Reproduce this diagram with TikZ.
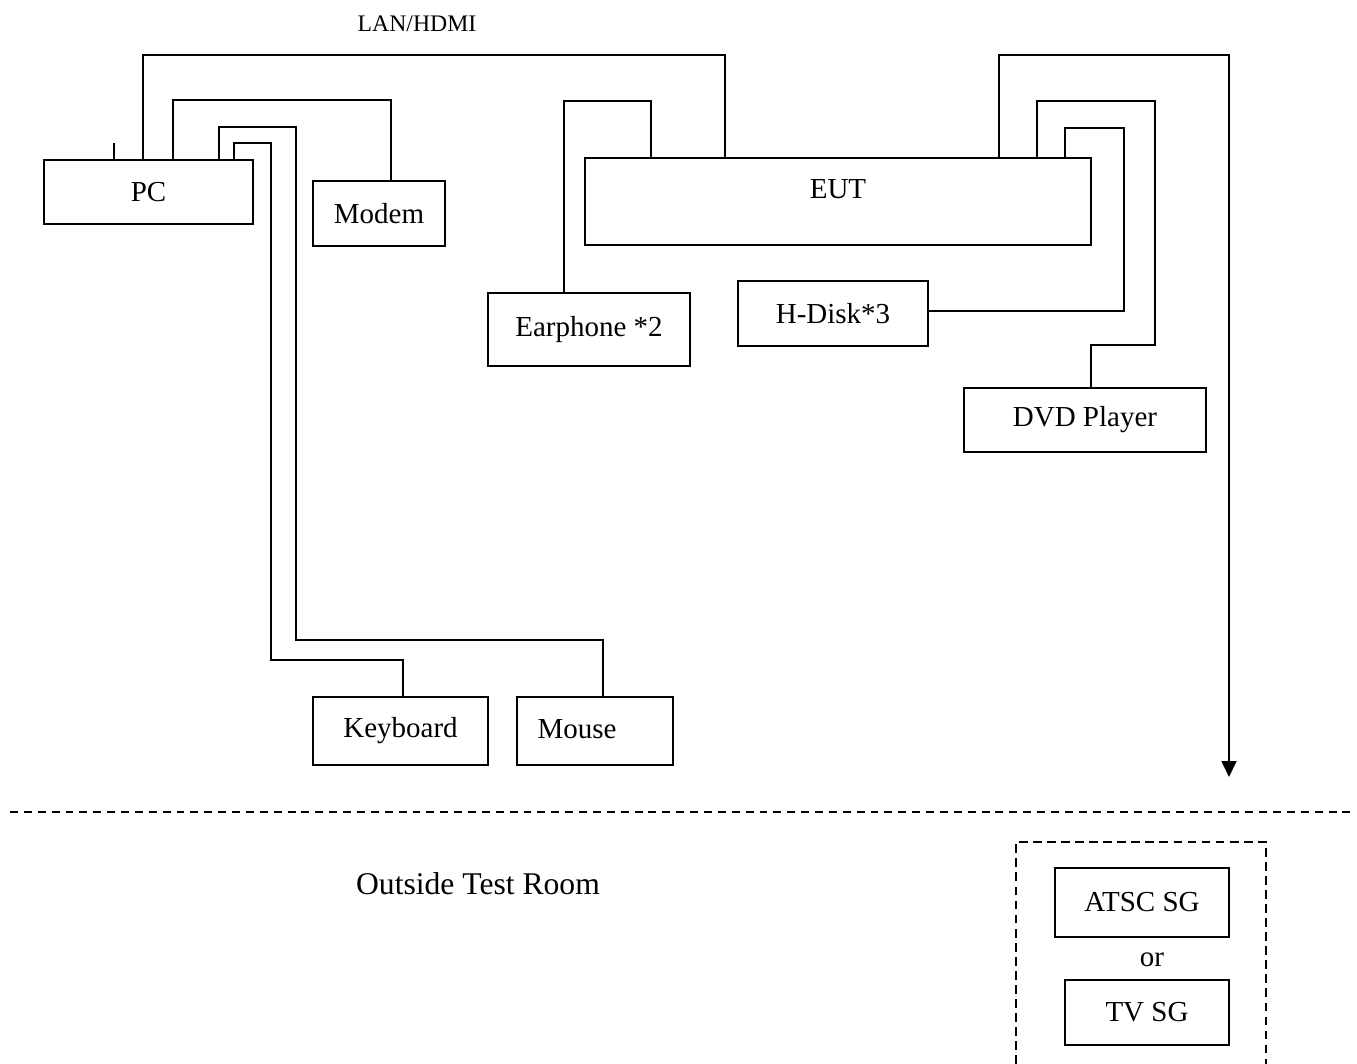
\documentclass[tikz,border=0pt]{standalone}
\usepackage{fontspec}
\setmainfont{Liberation Serif}
\usetikzlibrary{positioning,arrows.meta}

\begin{document}
\begin{tikzpicture}[
    x=0.02cm, y=-0.02cm,
    line width=1pt,
    every node/.style={font=\fontsize{16.5}{20}\selectfont},
    box/.style={draw, rectangle, inner sep=0pt, outer sep=0pt},
    roomline/.style={dash pattern=on 4.5pt off 3.4pt},
    sgline/.style={dash pattern=on 5pt off 3pt}
]
    \useasboundingbox (0,0) rectangle (1357,1064);

    % equipment inside the room
    \node[box, minimum width=4.18cm, minimum height=1.28cm] (pc) at (148.5,192) {PC};
    \node[box, minimum width=2.64cm, minimum height=1.30cm] (modem) at (379,213.5) {Modem};
    \node[box, minimum width=10.12cm, minimum height=1.74cm,
          label={[yshift=0.25cm]center:EUT}] (eut) at (838,201.5) {};
    \node[box, minimum width=4.04cm, minimum height=1.46cm] (ear) at (589,329.5) {Earphone *2};
    \node[box, minimum width=3.80cm, minimum height=1.30cm] (hdisk) at (833,313.5) {H-Disk*3};
    \node[box, minimum width=4.84cm, minimum height=1.28cm] (dvd) at (1085,420) {DVD Player};
    \node[box, minimum width=3.50cm, minimum height=1.36cm] (kbd) at (400.5,731) {Keyboard};
    \node[box, minimum width=3.12cm, minimum height=1.36cm, right=0.58cm of kbd,
          label={[xshift=-0.36cm, yshift=0.04cm]center:Mouse}] (mouse) {};

    \node[font=\fontsize{13.5}{16}\selectfont] (lan) at (417,24) {LAN/HDMI};

    % cables
    \draw (114,0 |- pc.north) -- ++(0,-17);
    \draw (143,0 |- pc.north) |- (725,55) -- (725,0 |- eut.north);
    \draw (173,0 |- pc.north) |- (391,100) -- (391,0 |- modem.north);
    \draw (219,0 |- pc.north) |- (296,127) |- (603,640) -- (603,0 |- mouse.north);
    \draw (234,0 |- pc.north) |- (271,143) |- (403,660) -- (403,0 |- kbd.north);
    \draw (651,0 |- eut.north) |- (564,101) -- (564,0 |- ear.north);
    \draw ([yshift=0.05cm]hdisk.east) -| (1124,128) -| (1065,0 |- eut.north);
    \draw (1037,0 |- eut.north) |- (1155,101) |- (1091,345) -- (1091,0 |- dvd.north);
    \coordinate (out) at (1229,777);
    \draw[-{Triangle[width=0.3cm,length=0.32cm]}] (999,0 |- eut.north) |- (1229,55) -- (out);

    % outside the room
    \draw[roomline] (10,812) -- (1350,812);
    \node[font=\fontsize{18}{22}\selectfont] (room) at (478,884) {Outside Test Room};
    \draw[sgline] (1016,1064) |- (1266,842) -- (1266,1064);
    \node[box, minimum width=3.48cm, minimum height=1.38cm] (atsc) at (1142,902.5) {ATSC SG};
    \node (or) at (1152,960) {or};
    \node[box, minimum width=3.28cm, minimum height=1.30cm] (tvsg) at (1147,1012.5) {TV SG};
\end{tikzpicture}
\end{document}
